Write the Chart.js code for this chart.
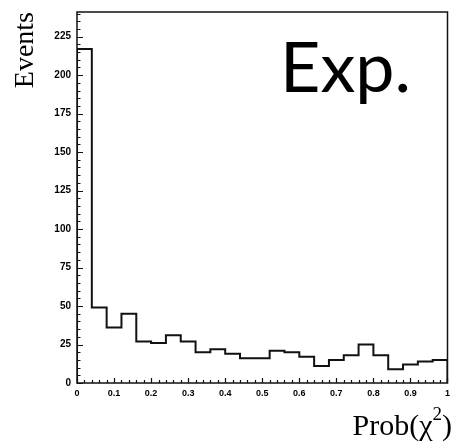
<!DOCTYPE html>
<html>
<head>
<meta charset="utf-8">
<script src="https://cdn.jsdelivr.net/npm/chart.js@4/dist/chart.umd.min.js"></script>
<style>
  html, body { margin: 0; padding: 0; background: #fff; }
  #wrap { width: 455px; height: 446px; }
</style>
</head>
<body>
<div id="wrap"><canvas id="histChart" width="455" height="446"></canvas></div>
<script>
// lower edges of the Prob(chi2) bins
const binLow = [0, 0.04, 0.08, 0.12, 0.16, 0.2, 0.24, 0.28, 0.32, 0.36, 0.4, 0.44, 0.48,
                0.52, 0.56, 0.6, 0.64, 0.68, 0.72, 0.76, 0.8, 0.84, 0.88, 0.92, 0.96];
const binHigh = 1;
// events per bin
const events = [217, 49, 36, 45, 27, 26, 31, 27, 20, 22, 19, 16, 16,
                21, 20, 17, 11, 15, 18, 25, 18, 9, 12, 14, 15];
const yLabels = [0, 25, 50, 75, 100, 125, 150, 175, 200, 225];
const xLabels = [0, 0.1, 0.2, 0.3, 0.4, 0.5, 0.6, 0.7, 0.8, 0.9, 1];

// step outline: start on the axis, then each bin, closing at x = 1
const points = [{ x: binLow[0], y: 0 }];
binLow.forEach((x, i) => points.push({ x: x, y: events[i] }));
points.push({ x: binHigh, y: events[events.length - 1] });
points.push({ x: binHigh, y: 0 });

const isLabel = (list, v) => list.some(l => Math.abs(l - v) < 1e-6);

// frame, inward tick marks, x title with superscript, "Exp." tag
const framePlugin = {
  id: 'frame',
  afterDraw(chart) {
    const ctx = chart.ctx;
    const a = chart.chartArea;
    const xs = chart.scales.x, ys = chart.scales.y;
    ctx.save();
    ctx.strokeStyle = '#111';
    ctx.lineWidth = 1.5;
    ctx.strokeRect(a.left, a.top, a.right - a.left, a.bottom - a.top);

    ctx.lineWidth = 1.2;
    ctx.beginPath();
    ys.ticks.forEach(t => {
      const y = Math.round(ys.getPixelForValue(t.value)) + 0.5;
      const len = isLabel(yLabels, t.value) ? 6 : 3.5;
      ctx.moveTo(a.left, y);
      ctx.lineTo(a.left + len, y);
    });
    xs.ticks.forEach(t => {
      const x = Math.round(xs.getPixelForValue(t.value)) + 0.5;
      const len = isLabel(xLabels, t.value) ? 5 : 3;
      ctx.moveTo(x, a.bottom);
      ctx.lineTo(x, a.bottom - len);
    });
    ctx.stroke();

    ctx.fillStyle = '#000';
    ctx.textBaseline = 'alphabetic';
    ctx.textAlign = 'left';

    // Prob(χ²) right-aligned to the frame
    const big = '30px "Liberation Serif"', small = '19px "Liberation Serif"';
    ctx.font = big;
    const w1 = ctx.measureText('Prob(χ').width;
    const w3 = ctx.measureText(')').width;
    ctx.font = small;
    const w2 = ctx.measureText('2').width;
    let x0 = 452 - (w1 + w2 + w3);
    const base = 435;
    ctx.font = big;
    ctx.fillText('Prob(χ', x0, base);
    ctx.font = small;
    ctx.fillText('2', x0 + w1, base - 15);
    ctx.font = big;
    ctx.fillText(')', x0 + w1 + w2, base);

    ctx.font = '70px Lato';
    ctx.fillText('Exp.', 280, 92);
    ctx.restore();
  }
};

const ctx = document.getElementById('histChart').getContext('2d');
const chart = new Chart(ctx, {
  type: 'line',
  data: {
    datasets: [{
      data: points,
      stepped: 'before',
      borderColor: '#111',
      borderWidth: 2,
      pointRadius: 0,
      fill: false,
      tension: 0
    }]
  },
  options: {
    responsive: false,
    animation: false,
    layout: { padding: { top: 11, right: 2, left: 0, bottom: 0 } },
    plugins: { legend: { display: false }, tooltip: { enabled: false } },
    scales: {
      x: {
        type: 'linear',
        min: 0,
        max: 1,
        grid: { display: false, drawTicks: false },
        border: { display: false },
        afterFit(scale) { scale.height = 63; },
        ticks: {
          stepSize: 0.02,
          autoSkip: false,
          maxRotation: 0,
          padding: 5,
          color: '#000',
          font: { family: 'Liberation Sans', size: 9, weight: 'bold' },
          callback: v => isLabel(xLabels, v) ? String(Math.round(v * 10) / 10) : ''
        }
      },
      y: {
        min: 0,
        max: 241,
        grid: { display: false, drawTicks: false },
        border: { display: false },
        afterFit(scale) { scale.width = 77; },
        ticks: {
          stepSize: 5,
          includeBounds: false,
          autoSkip: false,
          padding: 6,
          color: '#000',
          font: { family: 'Liberation Sans', size: 10, weight: 'bold' },
          callback: v => isLabel(yLabels, v) ? String(v) : ''
        },
        title: {
          display: true,
          text: 'Events',
          align: 'end',
          color: '#000',
          padding: { top: 9, bottom: 0 },
          font: { family: 'Liberation Serif', size: 28 }
        }
      }
    }
  },
  plugins: [framePlugin]
});
</script>
</body>
</html>
